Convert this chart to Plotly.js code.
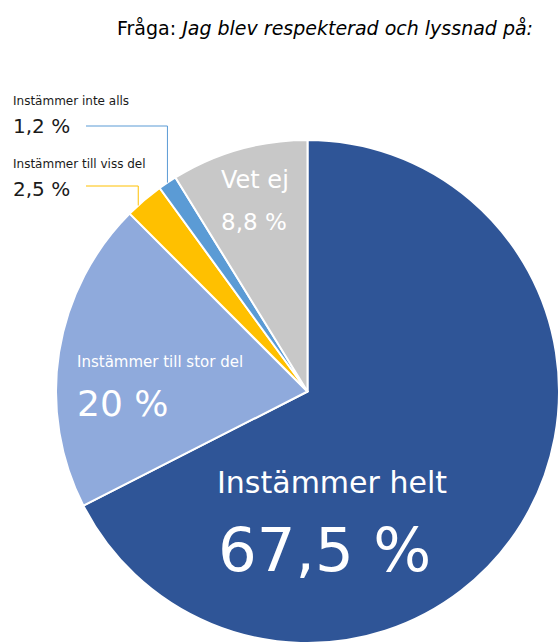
<!DOCTYPE html>
<html>
<head>
<meta charset="utf-8">
<script src="https://cdn.plot.ly/plotly-3.0.1.min.js"></script>
<style>
  html, body { margin: 0; padding: 0; background: #ffffff; }
  #chart { width: 560px; height: 643px; }
</style>
</head>
<body>
<div id="chart"></div>
<script>
// ---- Data ----
var questionLabel = "Fråga:";
var questionText = "Jag blev respekterad och lyssnad på:";
var categories = ["Instämmer helt", "Instämmer till stor del", "Instämmer till viss del", "Instämmer inte alls", "Vet ej"];
var values = [67.5, 20, 2.5, 1.2, 8.8];
var sliceColors = ["#2F5597", "#8FAADC", "#FFC000", "#5B9BD5", "#C8C8C8"];

// ---- Layout geometry ----
var W = 560, H = 643;
var pieLeft = 56, pieTop = 140, pieSize = 503;
var cx = pieLeft + pieSize / 2, cy = pieTop + pieSize / 2, R = pieSize / 2;
var FONT = "DejaVu Sans, sans-serif";

function fmt(v) { return String(v).replace(".", ",") + " %"; }
function px(x) { return x / W; }
function py(y) { return 1 - y / H; }

// label styles per category
var labelStyle = [
  {nx: 215, ny: 482, ns: 30, vx: 216, vy: 549, vs: 61, color: "#ffffff"},
  {nx: 75, ny: 362, ns: 15, vx: 75, vy: 403, vs: 36, color: "#ffffff"},
  {nx: 11, ny: 164, ns: 12, vx: 11, vy: 189, vs: 20, color: "#1a1a1a", leaderY: 186, leaderAt: 0.3},
  {nx: 11, ny: 101, ns: 12, vx: 11, vy: 126, vs: 20, color: "#1a1a1a", leaderY: 126, leaderAt: 0.5},
  {nx: 219, ny: 180, ns: 24, vx: 219, vy: 222, vs: 23, color: "#ffffff"}
];

var annotations = [];
var shapes = [];

annotations.push({
  xref: "paper", yref: "paper", x: px(115), y: py(28), xanchor: "left", yanchor: "middle",
  text: questionLabel + " <i>" + questionText + "</i>", showarrow: false,
  font: {family: FONT, size: 19, color: "#000000"}
});

var cum = 0;
for (var i = 0; i < categories.length; i++) {
  var s = labelStyle[i];
  annotations.push({
    xref: "paper", yref: "paper", x: px(s.nx), y: py(s.ny), xanchor: "left", yanchor: "middle",
    text: categories[i], showarrow: false,
    font: {family: FONT, size: s.ns, color: s.color}
  });
  annotations.push({
    xref: "paper", yref: "paper", x: px(s.vx), y: py(s.vy), xanchor: "left", yanchor: "middle",
    text: fmt(values[i]), showarrow: false,
    font: {family: FONT, size: s.vs, color: s.color}
  });
  if (s.leaderY !== undefined) {
    var frac = (cum + values[i] * s.leaderAt) / 100;
    var th = frac * 2 * Math.PI;
    var ex = cx + R * Math.sin(th);
    var ey = cy - R * Math.cos(th);
    var sx = 86;
    shapes.push({
      type: "path", xref: "paper", yref: "paper",
      path: "M " + px(sx) + " " + py(s.leaderY) + " L " + px(ex) + " " + py(s.leaderY) + " L " + px(ex) + " " + py(ey),
      line: {color: sliceColors[i], width: 1}
    });
  }
  cum += values[i];
}

var trace = {
  type: "pie",
  labels: categories,
  values: values,
  sort: false,
  direction: "clockwise",
  rotation: 0,
  textinfo: "none",
  hoverinfo: "none",
  marker: {colors: sliceColors, line: {color: "#ffffff", width: 2}},
  domain: {x: [pieLeft / W, (pieLeft + pieSize) / W], y: [1 - (pieTop + pieSize) / H, 1 - pieTop / H]},
  showlegend: false
};

var layout = {
  width: W, height: H,
  margin: {l: 0, r: 0, t: 0, b: 0},
  paper_bgcolor: "#ffffff",
  plot_bgcolor: "#ffffff",
  showlegend: false,
  annotations: annotations,
  shapes: shapes,
  font: {family: FONT}
};

Plotly.newPlot("chart", [trace], layout, {displayModeBar: false, staticPlot: true});
</script>
</body>
</html>
